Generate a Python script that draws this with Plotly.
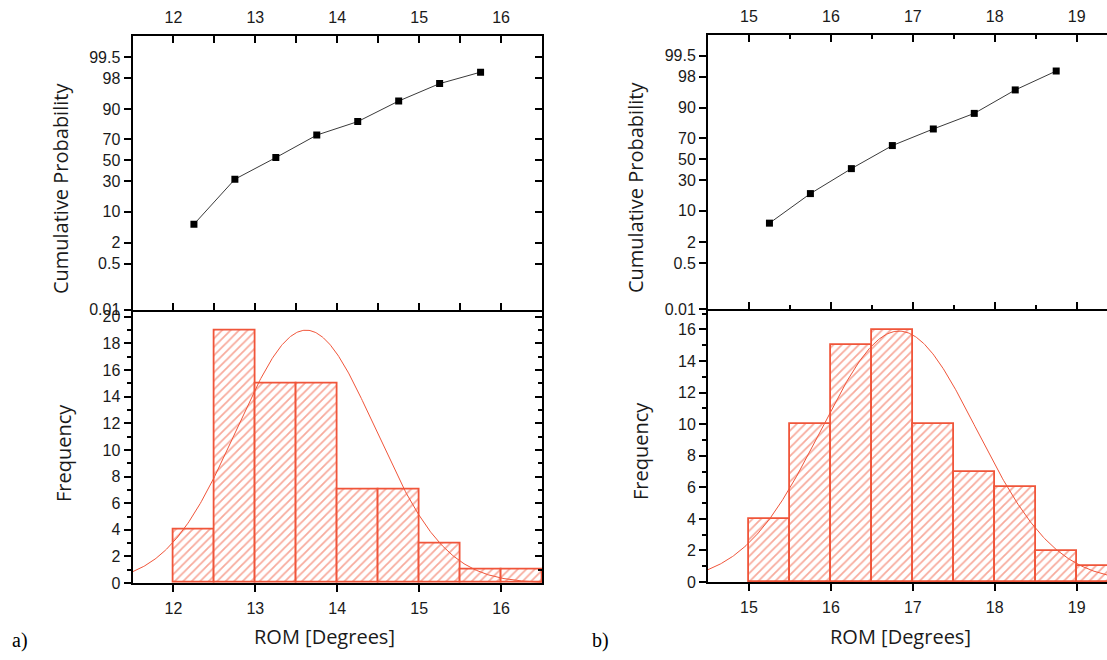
import statistics
import numpy as np
import plotly.graph_objects as go

# ---- data -------------------------------------------------------------
# panel a) histogram (bin centres, bin width 0.5 deg) and cumulative probability
a_bin_centres = [12.25, 12.75, 13.25, 13.75, 14.25, 14.75, 15.25, 15.75, 16.25]
a_counts = [4, 19, 15, 15, 7, 7, 3, 1, 1]
a_cum_x = [12.25, 12.75, 13.25, 13.75, 14.25, 14.75, 15.25, 15.75]
a_cum_pct = [5.56, 31.94, 52.78, 73.61, 83.33, 93.06, 97.22, 98.61]

# panel b)
b_bin_centres = [15.25, 15.75, 16.25, 16.75, 17.25, 17.75, 18.25, 18.75, 19.25]
b_counts = [4, 10, 15, 16, 10, 7, 6, 2, 1]
b_cum_x = [15.25, 15.75, 16.25, 16.75, 17.25, 17.75, 18.25, 18.75]
b_cum_pct = [5.63, 19.72, 40.85, 63.38, 77.46, 87.32, 95.77, 98.59]

# normal fit parameters (mean, sd, peak height) for the overlaid curves
a_fit = dict(mean=13.62, sd=0.85, peak=19.0)
b_fit = dict(mean=16.83, sd=0.95, peak=15.9)

# probability-axis tick labels (percent)
prob_ticks = [0.01, 0.5, 2, 10, 30, 50, 70, 90, 98, 99.5]
prob_labels = ["0.01", "0.5", "2", "10", "30", "50", "70", "90", "98", "99.5"]

BAR_W = 0.5
RED = "#F0553A"

# ---- helpers ----------------------------------------------------------
W, H = 1107, 660
nd = statistics.NormalDist()


def z(pct):
    return nd.inv_cdf(pct / 100.0)


def px_x(p):
    return p / W


def px_y(p):
    return 1 - p / H


def gauss(x, f):
    return f["peak"] * np.exp(-((x - f["mean"]) ** 2) / (2 * f["sd"] ** 2))


prob_range = [z(0.01), z(99.9)]
prob_vals = [z(p) for p in prob_ticks]

fig = go.Figure()

hatch = dict(color="white", line=dict(color=RED, width=1.8),
             pattern=dict(shape="/", fgcolor=RED, bgcolor="white", size=6, solidity=0.3))

# panel a) cumulative probability
fig.add_trace(go.Scatter(x=a_cum_x, y=[z(p) for p in a_cum_pct], mode="lines+markers",
                         line=dict(color="#3a3a3a", width=1),
                         marker=dict(symbol="square", size=7, color="black"),
                         xaxis="x", yaxis="y", showlegend=False))
# panel a) histogram + fit
fig.add_trace(go.Bar(x=a_bin_centres, y=a_counts, width=BAR_W, marker=hatch,
                     xaxis="x2", yaxis="y2", showlegend=False))
xa = np.linspace(11.5, 16.5, 400)
fig.add_trace(go.Scatter(x=xa, y=gauss(xa, a_fit), mode="lines",
                         line=dict(color=RED, width=1), xaxis="x2", yaxis="y2",
                         showlegend=False))

# panel b) cumulative probability
fig.add_trace(go.Scatter(x=b_cum_x, y=[z(p) for p in b_cum_pct], mode="lines+markers",
                         line=dict(color="#3a3a3a", width=1),
                         marker=dict(symbol="square", size=7, color="black"),
                         xaxis="x3", yaxis="y3", showlegend=False))
# panel b) histogram + fit
fig.add_trace(go.Bar(x=b_bin_centres, y=b_counts, width=BAR_W, marker=hatch,
                     xaxis="x4", yaxis="y4", showlegend=False))
xb = np.linspace(14.5, 19.5, 400)
fig.add_trace(go.Scatter(x=xb, y=gauss(xb, b_fit), mode="lines",
                         line=dict(color=RED, width=1), xaxis="x4", yaxis="y4",
                         showlegend=False))

# empty traces so the right-hand tick axes of panel a) get drawn
fig.add_trace(go.Scatter(x=[], y=[], xaxis="x", yaxis="y5", showlegend=False))
fig.add_trace(go.Scatter(x=[], y=[], xaxis="x2", yaxis="y6", showlegend=False))

tickfont = dict(family="Liberation Sans, Arial, sans-serif", size=16, color="#1a1a1a")
base = dict(showline=True, linecolor="black", linewidth=2, showgrid=False,
            zeroline=False, tickcolor="black", tickwidth=1.5, tickfont=tickfont,
            layer="above traces")

# panel geometry (pixels)
A_X = [px_x(132.5), px_x(542)]
B_X = [px_x(708), 1.0]
A_TOP = [px_y(313.3), px_y(36)]
A_BOT = [px_y(591), px_y(313.3)]
B_TOP = [px_y(312.7), px_y(34.5)]
B_BOT = [px_y(590), px_y(312.7)]

fig.update_layout(
    width=W, height=H, margin=dict(l=0, r=0, t=0, b=0),
    paper_bgcolor="white", plot_bgcolor="white", bargap=0,
    # panel a) top
    xaxis=dict(base, domain=A_X, anchor="y", side="top", range=[11.5, 16.5],
               tickvals=[12, 13, 14, 15, 16], ticks="inside", ticklen=7,
               mirror="allticks", ticklabelstandoff=5,
               minor=dict(tickvals=[12.5, 13.5, 14.5, 15.5], ticks="inside",
                          ticklen=4, tickcolor="black", tickwidth=1.5)),
    yaxis=dict(base, domain=A_TOP, anchor="x", range=prob_range,
               tickvals=prob_vals, ticktext=prob_labels, ticks="outside", ticklen=7),
    yaxis5=dict(base, overlaying="y", side="right", anchor="x", range=prob_range,
                tickvals=prob_vals, ticks="inside", ticklen=7, showticklabels=False),
    # panel a) bottom
    xaxis2=dict(base, domain=A_X, anchor="y2", side="bottom", range=[11.5, 16.5],
                tickvals=[12, 13, 14, 15, 16], ticks="outside", ticklen=7,
                ticklabelstandoff=3),
    yaxis2=dict(base, domain=A_BOT, anchor="x2", range=[0, 20.55],
                tickvals=list(range(0, 21, 2)), ticks="outside", ticklen=7,
                minor=dict(dtick=1, ticks="outside", ticklen=4, tickcolor="black",
                           tickwidth=1.5)),
    yaxis6=dict(base, overlaying="y2", side="right", anchor="x2", range=[0, 20.55],
                tickvals=list(range(0, 21, 2)), ticks="inside", ticklen=7,
                showticklabels=False,
                minor=dict(dtick=1, ticks="inside", ticklen=4, tickcolor="black",
                           tickwidth=1.5)),
    # panel b) top
    xaxis3=dict(base, domain=B_X, anchor="y3", side="top", range=[14.5, 19.37],
                tickvals=[15, 16, 17, 18, 19], ticks="inside", ticklen=7,
                mirror="allticks", ticklabelstandoff=5,
                minor=dict(tickvals=[15.5, 16.5, 17.5, 18.5], ticks="inside",
                           ticklen=4, tickcolor="black", tickwidth=1.5)),
    yaxis3=dict(base, domain=B_TOP, anchor="x3", range=prob_range,
                tickvals=prob_vals, ticktext=prob_labels, ticks="outside", ticklen=7),
    # panel b) bottom
    xaxis4=dict(base, domain=B_X, anchor="y4", side="bottom", range=[14.5, 19.37],
                tickvals=[15, 16, 17, 18, 19], ticks="outside", ticklen=7,
                ticklabelstandoff=3),
    yaxis4=dict(base, domain=B_BOT, anchor="x4", range=[0, 17.3],
                tickvals=list(range(0, 17, 2)), ticks="outside", ticklen=7,
                minor=dict(dtick=1, ticks="outside", ticklen=4, tickcolor="black",
                           tickwidth=1.5)),
)

title_font = dict(family="Open Sans, sans-serif", size=20, color="#1a1a1a")
serif_font = dict(family="Liberation Serif, Times New Roman, serif", size=20, color="black")


def label(text, x, y, angle=0, font=title_font):
    fig.add_annotation(text=text, x=px_x(x), y=px_y(y), xref="paper", yref="paper",
                       showarrow=False, textangle=angle, font=font,
                       xanchor="center", yanchor="middle")


label("Cumulative Probability", 60, 191, -90)
label("Frequency", 63, 459, -90)
label("ROM [Degrees]", 324, 645)
label("Cumulative Probability", 635, 190, -90)
label("Frequency", 640, 457, -90)
label("ROM [Degrees]", 900, 645)
label("a)", 20, 649, font=serif_font)
label("b)", 600, 649, font=serif_font)

fig.write_html("out.html")
